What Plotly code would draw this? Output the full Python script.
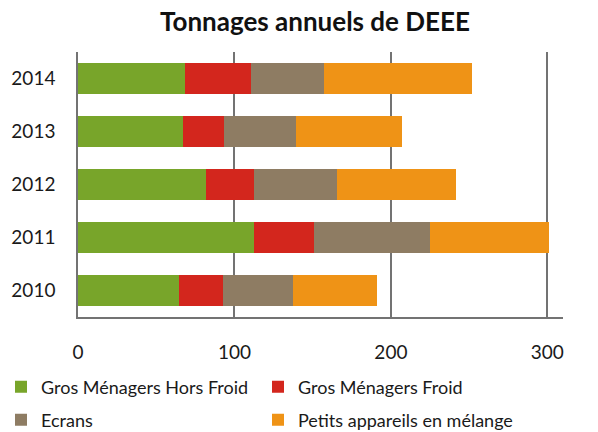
import plotly.graph_objects as go

years = ["2010", "2011", "2012", "2013", "2014"]
series_names = ["Gros Ménagers Hors Froid", "Gros Ménagers Froid", "Ecrans", "Petits appareils en mélange"]
hors_froid = [64.8, 112.2, 81.7, 67.0, 68.5]
froid = [27.8, 38.4, 30.9, 26.6, 41.9]
ecrans = [44.5, 74.2, 52.9, 45.9, 47.1]
petits = [53.9, 76.5, 76.1, 67.5, 94.3]
x_ticks = [0, 100, 200, 300]

values = [hors_froid, froid, ecrans, petits]
colors = ["#78A52A", "#D3261D", "#8E7C63", "#EF9316"]
legend_ids = ["legend", "legend2", "legend3", "legend4"]

FONT = "Lato"
W, H = 590, 424           # page body has an 8px default margin
ML, MR, MT, MB = 70, 35, 44, 115
PW = W - ML - MR

# legend slot positions: (left edge px, row centre px) in figure coordinates
slots = [(-7, 379), (250, 379), (-7, 412), (250, 412)]

fig = go.Figure()
for name, vals, col, lg in zip(series_names, values, colors, legend_ids):
    fig.add_trace(go.Bar(
        y=years, x=vals, name=name, orientation="h",
        marker=dict(color=col, line=dict(width=0)),
        legend=lg,
    ))

legends_layout = {}
for lg, (px, py) in zip(legend_ids, slots):
    legends_layout[lg] = dict(orientation="h", xref="paper", yref="container",
                              x=(px - ML) / PW, xanchor="left",
                              y=1 - py / H, yanchor="middle", font=dict(size=18),
                              bgcolor="rgba(0,0,0,0)")

fig.update_layout(
    barmode="stack",
    bargap=0.4,
    width=W, height=H,
    margin=dict(l=ML, r=MR, t=MT, b=MB, autoexpand=False),
    paper_bgcolor="white", plot_bgcolor="white",
    font=dict(family=FONT, color="#1a1a1a"),
    title=dict(text="<b>Tonnages annuels de DEEE</b>", x=307 / W, xref="container", xanchor="center",
               y=1 - 5 / H, yref="container", yanchor="top", font=dict(size=26, color="#111111")),
    xaxis=dict(range=[0, 310], tickvals=x_ticks, showgrid=True, gridcolor="#737373", gridwidth=1.5,
               showline=True, linecolor="#737373", linewidth=1.5, zeroline=False, automargin=False,
               ticks="", tickfont=dict(size=19), ticklabelstandoff=17, fixedrange=True),
    yaxis=dict(range=[-0.5, 4.5], showline=True, linecolor="#737373", linewidth=1.5, automargin=False,
               ticks="", tickfont=dict(size=19), ticklabelstandoff=17, fixedrange=True),
    showlegend=True,
    **legends_layout,
)

fig.write_html("out.html")
